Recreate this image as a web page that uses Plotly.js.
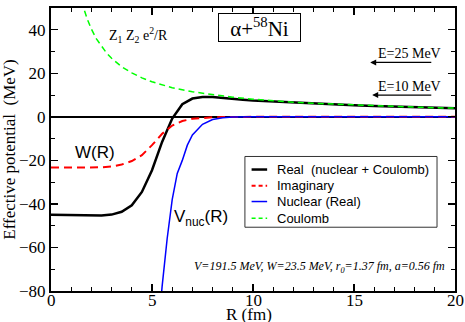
<!DOCTYPE html>
<html>
<head>
<meta charset="utf-8">
<script src="https://cdn.plot.ly/plotly-3.0.1.min.js"></script>
<style>html,body{margin:0;padding:0;background:#fff;}#chart{width:465px;height:322px;}</style>
</head>
<body>
<div id="chart"></div>
<script>
// R grid (fm) for real and imaginary potentials
const rGrid = [0,0.5,1,1.5,2,2.5,3,3.5,4,4.5,5,5.5,6,6.5,7,7.5,8,8.5,9,9.5,10,11,12,13,14,15,16,17,18,19,20];
// Real (nuclear + Coulomb), MeV
const realPot = [-45.0,-45.0,-45.0,-45.1,-45.2,-45.3,-44.9,-43.6,-40.6,-34.5,-24.5,-11.5,-0.8,5.8,8.4,9.1,9.1,8.8,8.4,7.9,7.5,7.0,6.5,6.0,5.6,5.3,5.0,4.7,4.4,4.2,4.0];
// Imaginary, MeV
const imagPot = [-23.3,-23.3,-23.3,-23.3,-23.3,-23.2,-22.8,-21.9,-20.3,-17.6,-13.0,-7.8,-4.0,-1.9,-0.9,-0.4,-0.2,-0.1,0,0,0,0,0,0,0,0,0,0,0,0,0];
// Nuclear (Real), MeV
const rNuc = [5.25,5.5,5.75,6.0,6.25,6.5,6.75,7.0,7.5,8.0,8.5,9.0,10,12,15,20];
const nucPot = [-105,-78,-56,-38,-26,-20,-13,-8.3,-3.4,-1.2,-0.4,-0.1,0,0,0,0];
// Coulomb, MeV
const rCoul = [1.4,1.6,1.8,2,2.25,2.5,2.75,3,3.5,4,4.5,5,5.5,6,7,8,9,10,11,12,13,14,15,16,17,18,19,20];
const coulPot = [57.6,50.4,44.8,40.3,35.8,32.3,29.3,26.9,23.0,20.2,17.9,16.1,14.7,13.4,11.5,10.1,9.0,8.1,7.3,6.7,6.2,5.8,5.4,5.0,4.7,4.5,4.2,4.0];

// x tick labels
const xTickVals = [0, 5, 10, 15, 20];
const xTickText = ["0", "5", "10", "15", "20"];

const seriesNames = ["Real\u00a0\u00a0(nuclear + Coulomb)", "Imaginary", "Nuclear (Real)", "Coulomb"];
const seriesColors = ["#000000", "#ff0000", "#0000ff", "#00ff00"];
const seriesWidths = [2.5, 2, 1.5, 1.5];
const seriesDash = ["solid", "8px,5px", "solid", "6px,4px"];
const xTitle = "R (fm)";
const yTitle = "Effective potential\u00a0\u00a0(MeV)";

const serif = "Liberation Serif, Times New Roman, serif";
const sans = "Liberation Sans, Arial, sans-serif";

const xs = [rGrid, rGrid, rNuc, rCoul];
const ys = [realPot, imagPot, nucPot, coulPot];
const traces = seriesNames.map((n, i) => ({
  x: xs[i], y: ys[i], name: n, mode: "lines", showlegend: false,
  line: {color: seriesColors[i], width: seriesWidths[i], dash: seriesDash[i]}
}));

// Legend box drawn in data coordinates
const legBox = {x0: 9.6, x1: 19.11, y0: -50.7, y1: -18.2};
const legRows = [-24.2, -31.6, -38.9, -46.6];
const shapes = [
  {type: "rect", xref: "x", yref: "y", x0: legBox.x0, x1: legBox.x1, y0: legBox.y0, y1: legBox.y1,
   line: {color: "#333", width: 1}, fillcolor: "#fff", layer: "above"}
];
const legAnn = [];
seriesNames.forEach((n, i) => {
  shapes.push({type: "line", xref: "x", yref: "y", x0: 9.93, x1: 10.7, y0: legRows[i], y1: legRows[i],
    line: {color: seriesColors[i], width: seriesWidths[i], dash: seriesDash[i] === "solid" ? "solid" : "4px,3px"}, layer: "above"});
  legAnn.push({x: 11.1, y: legRows[i], xref: "x", yref: "y", xanchor: "left", yanchor: "middle",
    text: n, showarrow: false, font: {family: sans, size: 13, color: "#000"}});
});

const xTickAnn = xTickVals.map((v, i) => ({
  x: v, y: 0, xref: "x", yref: "paper", yanchor: "middle", yshift: -9,
  text: xTickText[i], showarrow: false, font: {family: serif, size: 17, color: "#000"}
}));

const axisCommon = {
  showgrid: false, ticks: "inside", mirror: "ticks", showline: true,
  linecolor: "#000", linewidth: 2, tickcolor: "#000", tickwidth: 1.2, ticklen: 7,
  tickfont: {family: serif, size: 17, color: "#000"}
};

const layout = {
  width: 465, height: 322,
  margin: {l: 51, r: 10, t: 8, b: 31},
  paper_bgcolor: "#fff", plot_bgcolor: "#fff",
  showlegend: false,
  xaxis: Object.assign({}, axisCommon, {
    range: [0, 20], tickvals: xTickVals, zeroline: false, showticklabels: false,
    minor: {dtick: 1, ticks: "inside", ticklen: 4, tickcolor: "#000", tickwidth: 1},
    title: {text: ""}
  }),
  yaxis: Object.assign({}, axisCommon, {
    range: [-80, 50], dtick: 20, tick0: 0,
    zeroline: true, zerolinecolor: "#000", zerolinewidth: 1.5,
    minor: {dtick: 10, ticks: "inside", ticklen: 4, tickcolor: "#000", tickwidth: 1},
    title: {text: yTitle, font: {family: serif, size: 17, color: "#000"}, standoff: 8}
  }),
  shapes: shapes,
  annotations: [
    {x: 0.49, y: 0, xref: "paper", yref: "paper", yanchor: "middle", yshift: -23, text: xTitle, showarrow: false,
     font: {family: serif, size: 17, color: "#000"}},
    {x: 2.18, y: -16.2, xref: "x", yref: "y", text: "W(R)", showarrow: false,
     font: {family: sans, size: 17, color: "#000"}},
    {x: 7.43, y: -46.5, xref: "x", yref: "y", text: "V<sub>nuc</sub>(R)", showarrow: false,
     font: {family: sans, size: 17, color: "#000"}},
    {x: 10.3, y: 41.0, xref: "x", yref: "y", text: "α+<sup>58</sup>Ni", showarrow: false,
     font: {family: serif, size: 21, color: "#000"},
     bordercolor: "#000", borderwidth: 1, borderpad: 0, width: 81, height: 27, bgcolor: "#fff"},
    {x: 2.77, y: 37.6, xref: "x", yref: "y", xanchor: "left", text: "Z<sub>1</sub> Z<sub>2</sub> e<sup>2</sup>/R", showarrow: false,
     font: {family: serif, size: 14, color: "#000"}},
    {x: 19.4, y: 29.3, xref: "x", yref: "y", xanchor: "right", text: "E=25 MeV", showarrow: false,
     font: {family: serif, size: 14, color: "#000"}},
    {x: 19.4, y: 14.1, xref: "x", yref: "y", xanchor: "right", text: "E=10 MeV", showarrow: false,
     font: {family: serif, size: 14, color: "#000"}},
    {x: 15.8, y: 25, ax: 18.9, ay: 25, xref: "x", yref: "y", axref: "x", ayref: "y", text: "",
     showarrow: true, arrowhead: 2, arrowsize: 1, arrowwidth: 1.2, arrowcolor: "#000"},
    {x: 15.9, y: 10, ax: 18.9, ay: 10, xref: "x", yref: "y", axref: "x", ayref: "y", text: "",
     showarrow: true, arrowhead: 2, arrowsize: 1, arrowwidth: 1.2, arrowcolor: "#000"},
    {x: 19.6, y: -69.1, xref: "x", yref: "y", xanchor: "right",
     text: "<i>V=191.5 MeV, W=23.5 MeV, r<sub>0</sub>=1.37 fm, a=0.56 fm</i>", showarrow: false,
     font: {family: serif, size: 12, color: "#000"}}
  ].concat(legAnn, xTickAnn)
};

Plotly.newPlot("chart", traces, layout, {staticPlot: true, displayModeBar: false});
</script>
</body>
</html>
